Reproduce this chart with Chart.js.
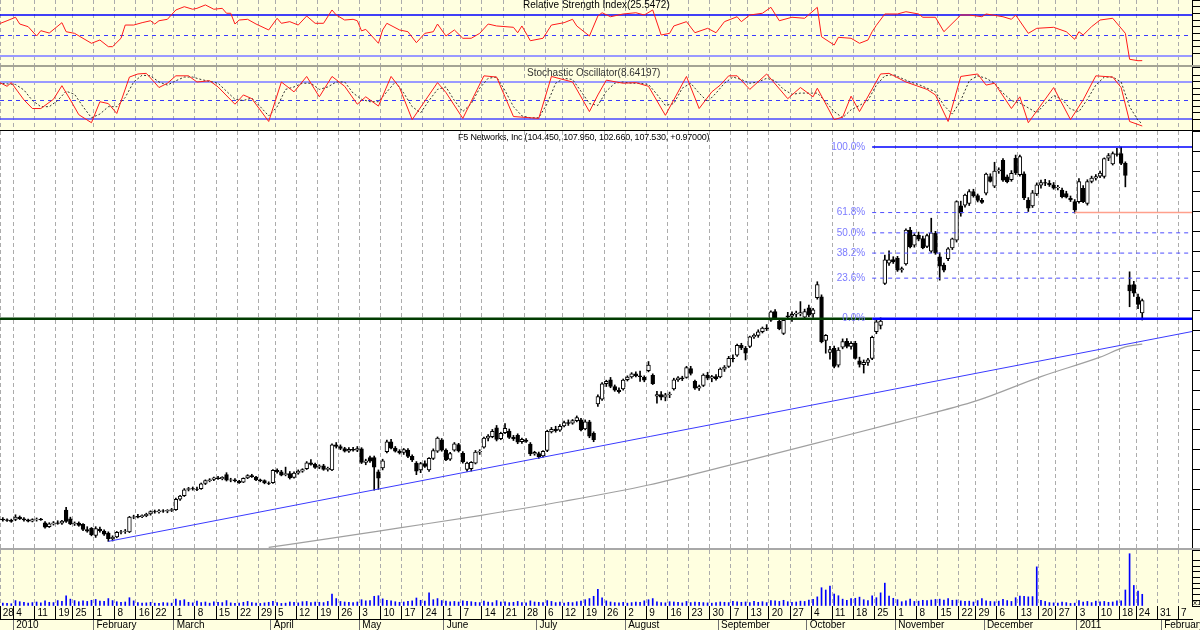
<!DOCTYPE html>
<html>
<head>
<meta charset="utf-8">
<script src="https://cdn.jsdelivr.net/npm/chart.js@4.4.1/dist/chart.umd.min.js"></script>
<style>
  html, body { margin: 0; padding: 0; background: #fff; }
  #wrap { position: relative; width: 1200px; height: 630px; overflow: hidden; font-family: "Liberation Sans", Arial, sans-serif; }
  #wrap canvas { position: absolute; left: 0; display: block; }
  .sep { position: absolute; left: 0; width: 1200px; }
  .lbl { position: absolute; white-space: nowrap; font-size: 10px; line-height: 12px; color: #000; }
</style>
</head>
<body>
<div id="wrap">
  <canvas id="rsiChart" width="1200" height="65" style="top:0;background:#ffffe0"></canvas>
  <div class="sep" style="top:65px;height:2px;background:#a4a494"></div>
  <canvas id="stoChart" width="1200" height="63" style="top:67px;background:#ffffe0"></canvas>
  <div class="sep" style="top:130px;height:1px;background:#000"></div>
  <canvas id="priceChart" width="1200" height="417" style="top:131px;background:#fff"></canvas>
  <div class="sep" style="top:548px;height:2px;background:#a8a8a8"></div>
  <canvas id="volChart" width="1200" height="80" style="top:550px;background:#ffffe0"></canvas>
  <div class="lbl" style="left:523px;top:-1px">Relative Strength Index(25.5472)</div>
  <div class="lbl" style="left:527px;top:67px;color:#333">Stochastic Oscillator(8.64197)</div>
  <div class="lbl" style="left:458px;top:131px;font-size:9px;letter-spacing:-0.2px">F5 Networks, Inc (104.450, 107.950, 102.660, 107.530, +0.97000)</div>
  <div class="lbl" style="left:1193px;top:597px;font-size:8px">x1</div>
</div>
<script>
(function () {
  "use strict";

  // Trading-day axis: day 0 = 4 Jan 2010, first candle = 28 Dec 2009
  const X_MIN = -3.673;
  const X_MAX = 278.79;
  const firstDay = -4;

  // Daily prices (USD)
  const openP = [
    52.3,52.5,52.3,52.2,52.4,53.0,52.6,52.3,52.0,52.4,
    52.5,51.6,50.6,51.3,51.6,51.5,54.8,52.6,51.3,51.5,
    51.2,49.9,50.2,48.4,50.0,49.5,49.0,47.6,48.0,49.2,
    49.4,49.3,53.0,53.2,53.1,53.4,53.8,54.4,54.3,54.6,
    54.5,54.7,54.9,57.5,58.4,60.0,60.2,60.1,60.2,61.5,
    62.2,62.5,62.9,62.7,63.7,62.3,62.4,62.1,61.8,62.9,
    63.5,63.1,62.4,62.2,61.6,61.7,64.8,64.4,63.7,64.0,
    63.0,64.1,64.6,65.2,66.7,66.3,65.6,65.9,65.0,64.9,
    71.2,70.8,70.3,69.6,70.1,69.9,70.2,66.8,68.0,68.0,
    64.4,65.4,69.5,72.0,70.4,69.6,69.3,69.9,68.3,66.6,
    64.9,66.5,64.9,67.8,69.6,72.4,69.9,67.6,69.9,71.3,
    69.1,65.0,65.2,66.6,69.4,70.6,72.9,73.3,75.5,72.8,
    74.3,74.7,73.1,73.6,72.0,72.4,71.4,68.9,69.0,68.4,
    69.8,74.5,75.1,74.9,76.0,76.8,76.7,77.3,77.5,75.2,
    77.0,74.1,81.5,82.7,86.6,87.6,85.9,85.0,85.3,87.6,
    88.3,89.1,88.6,88.2,89.9,88.7,83.5,83.9,83.2,83.8,
    85.3,87.6,88.1,88.2,90.4,87.2,85.5,86.2,88.8,88.0,
    88.4,88.3,90.3,91.0,93.0,93.8,96.3,95.5,96.0,98.4,
    98.8,99.7,100.6,102.6,104.8,102.3,99.3,103.7,103.6,104.1,
    104.2,103.4,105.7,104.2,108.3,108.5,97.5,94.5,95.5,91.3,
    95.8,97.3,96.0,96.8,92.4,91.4,92.0,93.0,99.7,101.3,
    111.9,117.0,117.9,118.2,115.3,116.8,125.3,121.5,124.0,123.2,
    121.2,120.0,124.5,118.6,116.5,118.1,120.8,122.8,131.4,131.6,
    132.0,135.0,134.0,132.8,134.6,138.8,136.4,140.2,142.9,138.7,
    138.0,143.4,139.3,139.5,132.9,131.4,134.4,136.6,137.3,137.1,
    136.7,136.0,135.4,134.5,133.3,132.5,132.5,135.8,132.0,137.6,
    138.4,138.9,138.8,143.4,142.0,144.5,144.6,142.1,111.5,111.6,
    108.5,104.45
  ];
  const highP = [
    52.8,52.9,52.6,52.5,53.6,53.3,52.9,52.5,52.6,52.8,
    52.7,51.9,51.6,51.9,52.1,52.2,55.5,53.0,51.8,51.8,
    51.4,50.6,50.4,50.6,50.5,49.8,49.3,48.3,49.4,49.7,
    49.9,53.2,53.5,53.7,53.6,54.0,54.6,54.8,54.9,54.9,
    54.9,55.2,57.8,58.5,60.2,60.5,60.6,60.6,61.6,62.4,
    62.7,63.1,63.3,63.2,64.2,62.8,62.7,62.3,62.9,63.7,
    63.8,63.3,62.6,62.4,61.9,65.0,65.2,64.8,65.6,64.5,
    64.4,64.9,65.2,67.0,67.5,66.6,66.2,66.3,65.6,71.5,
    71.8,71.2,70.6,70.5,70.6,70.8,70.5,67.6,68.4,68.4,
    64.9,67.6,72.4,72.6,70.8,70.0,70.3,70.3,68.7,67.0,
    66.8,67.2,68.0,70.2,73.2,72.8,70.2,69.3,71.8,71.6,
    69.5,66.9,67.0,69.8,70.0,73.2,73.8,75.1,76.1,74.4,
    76.6,75.2,73.6,74.0,72.9,72.8,71.8,69.6,69.4,69.8,
    74.9,75.6,75.9,76.3,77.2,77.5,77.6,78.5,77.9,77.5,
    77.4,74.5,83.8,86.9,87.5,88.2,86.3,85.6,87.8,88.6,
    89.4,89.6,89.8,88.6,92.2,89.1,84.7,84.6,84.2,84.5,
    88.0,88.4,88.5,91.0,91.0,87.5,86.3,89.1,89.5,88.7,
    88.9,90.6,91.2,93.5,93.9,96.6,96.8,96.0,98.6,99.2,
    100.2,100.9,101.5,105.0,105.3,102.7,102.9,104.6,104.7,104.9,
    107.3,105.4,106.4,105.6,112.3,109.0,99.0,96.0,96.1,95.7,
    97.9,98.0,97.2,97.3,93.3,92.6,93.0,98.6,102.8,103.2,
    119.0,120.1,118.6,118.7,116.0,125.6,126.0,124.4,124.8,123.8,
    124.3,128.3,125.0,119.6,117.0,120.9,123.3,132.7,132.6,134.4,
    135.5,135.6,134.4,133.3,139.7,139.5,142.4,141.0,143.3,139.2,
    140.3,144.2,144.2,140.0,133.5,135.3,137.2,137.9,138.1,137.8,
    137.3,136.6,135.9,135.1,133.9,133.0,138.3,136.5,138.0,138.9,
    139.3,140.2,143.5,144.6,145.0,145.9,146.2,142.5,114.8,112.4,
    109.2,107.95
  ];
  const lowP = [
    51.9,52.0,51.9,51.7,52.1,52.4,52.0,51.8,51.8,52.0,
    52.2,50.2,50.4,51.0,51.2,51.2,51.7,51.1,50.9,50.7,
    49.6,49.2,48.3,47.9,49.2,48.4,46.9,47.0,47.8,48.8,
    48.9,49.1,52.6,52.8,52.9,53.1,53.5,54.0,54.0,54.2,
    54.1,54.4,54.7,57.2,58.2,59.6,59.8,59.7,60.0,61.2,
    61.9,62.2,62.5,62.4,62.1,61.9,61.9,61.5,61.7,62.7,
    63.0,62.2,61.9,61.4,61.2,61.5,64.1,63.4,63.4,62.6,
    62.8,63.8,64.3,65.0,66.1,65.3,65.2,64.8,64.6,64.7,
    70.4,70.0,69.4,69.3,69.6,69.5,66.5,66.2,66.8,59.8,
    60.0,64.9,69.2,70.2,69.4,68.9,68.8,68.0,67.0,63.7,
    64.2,65.5,64.5,67.5,69.3,69.6,67.2,67.3,69.6,69.4,
    66.6,64.5,64.6,66.4,68.8,70.4,72.2,73.0,72.2,72.5,
    74.0,72.8,72.3,71.5,71.6,71.8,68.5,68.6,67.8,68.1,
    69.5,74.2,74.4,74.6,75.7,76.1,76.4,77.0,74.7,75.0,
    73.0,72.0,80.9,82.4,85.9,85.6,84.7,84.2,85.0,87.3,
    88.0,88.3,87.2,87.1,89.6,86.4,81.7,82.5,82.3,83.1,
    85.0,87.2,87.4,88.0,88.8,85.2,84.9,85.9,87.6,87.1,
    87.5,88.1,89.7,90.7,92.1,93.5,95.2,92.6,95.7,98.0,
    98.3,99.4,100.0,102.3,102.8,100.2,99.0,103.0,102.3,103.4,
    103.7,102.9,103.5,103.3,107.9,96.9,94.3,92.8,90.6,90.8,
    95.4,95.6,95.3,92.8,90.8,89.3,91.2,92.7,99.2,100.4,
    111.6,116.4,116.9,114.9,114.7,116.5,120.8,121.0,122.6,120.6,
    120.9,119.6,119.2,112.7,114.8,117.6,120.4,122.3,128.8,131.1,
    131.5,133.6,132.4,132.0,134.2,137.4,136.0,139.6,137.6,137.2,
    137.6,139.3,138.9,133.0,130.0,131.0,134.0,135.9,136.5,136.3,
    135.6,135.4,133.4,133.4,132.5,129.6,132.1,132.2,131.6,137.2,
    137.9,138.5,138.4,142.8,141.7,143.9,141.8,136.2,106.0,108.6,
    105.5,102.66
  ];
  const closeP = [
    52.5,52.3,52.2,51.9,53.0,52.6,52.3,52.0,52.4,52.5,
    52.3,50.5,51.3,51.6,51.4,52.0,51.9,51.3,51.5,50.9,
    49.9,49.5,48.6,50.1,49.6,48.7,47.6,47.9,49.2,49.3,
    49.5,53.0,53.1,53.0,53.4,53.7,54.4,54.3,54.6,54.5,
    54.7,54.9,57.5,58.3,59.9,60.2,60.1,60.0,61.4,62.2,
    62.4,62.9,62.7,63.0,62.3,62.4,62.1,61.7,62.8,63.5,
    63.2,62.4,62.2,61.6,61.5,64.8,64.4,63.6,64.0,62.9,
    64.1,64.6,65.0,66.7,66.3,65.5,65.9,65.0,65.3,71.2,
    70.8,70.3,69.6,70.1,69.9,70.3,66.8,67.2,67.1,65.6,
    62.8,67.2,72.0,70.4,69.6,69.2,70.0,68.3,67.4,64.6,
    66.5,65.8,67.8,69.8,72.9,69.9,67.4,69.0,71.5,69.7,
    66.9,66.6,66.8,69.4,69.6,72.9,73.4,74.6,72.6,74.1,
    75.4,73.1,72.7,71.9,72.6,72.1,68.9,69.3,68.2,69.6,
    74.6,75.1,74.8,75.9,76.8,76.6,77.3,78.1,75.0,77.0,
    73.4,72.5,83.4,86.6,87.2,85.9,85.0,84.6,87.5,88.3,
    89.1,88.6,88.4,87.5,91.3,86.6,83.9,83.2,83.8,84.0,
    87.6,88.1,87.8,90.7,89.2,85.5,85.9,88.8,88.0,88.4,
    87.9,90.3,90.8,93.0,92.9,96.3,95.6,94.3,98.4,98.8,
    99.7,100.6,100.4,104.7,103.1,100.5,102.6,103.5,104.1,104.4,
    104.5,104.8,103.9,105.2,111.6,97.2,98.8,95.2,91.0,95.1,
    97.2,96.0,96.8,93.0,91.5,92.0,92.6,98.3,102.2,102.4,
    117.8,117.8,117.3,115.2,115.6,125.3,121.1,124.0,123.0,120.8,
    123.9,124.6,119.5,116.2,115.2,120.6,123.1,132.5,129.6,134.1,
    135.0,134.0,132.8,132.3,139.4,137.6,140.2,140.5,137.9,137.5,
    139.6,139.7,143.8,133.4,130.8,134.7,136.7,137.3,137.1,136.7,
    135.9,136.1,133.7,133.6,132.9,130.4,137.5,132.5,137.5,138.4,
    138.8,139.7,143.3,144.1,144.6,144.4,142.1,139.1,110.0,109.4,
    106.56,107.53
  ];

  // Daily volume (millions of shares)
  const volume = [
    1.2,1.0,0.9,0.8,1.9,1.5,1.3,1.0,1.2,1.4,
    1.1,1.8,1.3,1.2,1.9,1.6,3.6,2.4,1.9,1.5,
    1.8,1.6,2.0,2.3,1.7,1.6,2.6,1.9,1.5,1.3,
    1.4,2.9,1.8,1.2,1.0,1.1,1.3,1.0,0.9,1.2,
    1.1,1.0,2.4,1.9,2.2,1.3,1.1,1.7,1.2,1.4,
    1.0,1.5,1.3,1.2,1.9,1.1,0.9,1.0,1.3,1.6,
    1.2,1.0,0.9,1.1,1.3,1.6,1.2,0.9,1.0,1.4,
    1.3,1.1,1.5,1.6,1.2,1.4,1.3,1.2,1.6,4.2,
    2.6,1.6,1.4,1.3,1.2,1.4,2.2,1.8,1.9,3.4,
    3.6,2.5,2.0,1.8,1.5,1.3,1.4,1.6,1.8,2.8,
    2.0,1.7,4.6,2.2,2.6,1.9,1.7,1.5,1.6,1.4,
    1.8,1.6,1.5,1.3,1.2,1.7,1.4,1.2,1.9,1.4,
    1.5,1.2,1.3,1.6,1.2,1.1,1.8,1.4,1.3,1.2,
    1.9,1.6,1.2,1.4,1.0,1.3,1.2,1.5,1.7,2.2,
    2.6,3.4,5.8,2.9,1.8,1.4,1.2,1.1,1.3,1.0,
    1.2,1.4,1.3,1.8,2.2,2.6,1.5,1.2,1.1,1.5,
    1.4,1.3,1.1,1.6,1.2,1.4,1.3,1.2,1.1,1.0,
    1.2,1.4,1.3,1.2,1.6,1.5,1.3,1.4,1.2,1.6,
    1.3,1.5,1.2,1.9,1.8,1.6,2.0,1.5,1.3,1.4,
    1.7,1.6,2.1,2.3,3.2,6.4,5.6,7.0,4.2,3.6,
    2.4,2.0,2.6,2.7,3.1,2.2,1.9,3.6,2.9,4.6,
    8.0,3.5,2.7,2.2,1.5,1.8,2.4,1.6,1.7,2.0,
    1.9,2.1,2.3,2.4,2.1,2.6,2.0,2.1,1.8,1.6,
    1.7,1.4,1.9,2.6,1.8,1.6,1.5,1.7,2.3,1.9,
    1.6,2.9,3.5,3.4,3.2,3.3,13.7,2.0,1.6,1.2,
    1.1,1.0,1.4,1.2,0.9,1.0,1.9,1.4,1.6,1.2,
    1.7,1.5,1.6,1.3,1.4,1.8,1.8,5.6,18.3,7.2,
    5.2,4.1
  ];

  // Relative Strength Index
  const rsiDay = [
    -4,-2,0,1,3,5,6,8,11,12, 14,18,20,22,23,25,26,28,30,32,
    33,34,36,38,40,42,43,45,47,49, 50,51,52,53,55,57,60,62,63,65,
    67,69,71,73,75,76,78,80,81,82, 83,86,87,88,91,93,95,97,99,100,
    102,104,106,108,110,112,114,118,119,120, 122,125,127,130,132,133,136,138,139,141,
    144,147,149,151,153,155,156,159,161,164, 166,168,171,172,174,177,179,181,184,187,
    190,191,194,195,198,200,202,203,204,206, 207,209,211,214,215,218,220,224,226,229,
    230,234,236,237,240,242,246,249,251,252, 253,255,257,260,263,264,266,267
  ];
  const rsiVal = [
    61.2,64.4,67.8,61.2,58.6,49.5,54.7,52.4,62.5,53.7, 52.1,42.4,45.6,39.1,39.1,47.3,60.2,60.2,62.5,64.4,
    61.2,64.4,65.8,74.9,78.1,75.6,76.5,79.8,75.6,76.5, 71.7,71.7,61.2,65.1,65.8,61.2,55.4,66.8,61.9,63.5,
    60.2,69.0,61.9,61.9,74.9,70.0,65.1,65.8,64.4,54.5, 56.0,42.4,55.4,61.9,55.4,53.7,43.0,52.1,53.7,61.2,
    49.5,55.4,47.3,47.3,52.1,61.2,59.3,58.0,52.7,59.3, 44.9,47.3,60.2,62.5,65.8,59.3,49.5,69.0,72.2,68.3,
    71.0,72.2,70.0,74.9,50.5,52.1,59.3,63.5,52.7,57.0, 52.7,63.5,68.3,63.5,70.0,71.7,77.5,64.4,67.8,66.8,
    77.5,48.8,40.7,48.2,47.3,42.4,45.6,53.7,60.0,71.0, 71.0,71.0,73.2,71.0,67.8,67.8,53.7,70.0,70.0,68.3,
    71.0,68.3,65.8,70.0,52.1,57.0,58.0,53.7,46.3,53.7, 50.5,58.6,65.1,66.8,52.1,26.8,25.4,25.5
  ];

  // Stochastic oscillator %K and %D
  const kDay = [
    -4,-2,-1,2,4,6,9,11,13,15, 18,20,22,24,27,29,31,33,34,36,
    38,41,43,46,48,52,54,56,60,63, 66,69,72,75,78,81,83,86,89,91,
    94,100,102,106,111,114,118,124,127,132, 136,138,140,144,147,150,154,159,162,165,
    167,169,171,174,178,183,186,189,190,194, 196,198,200,205,207,211,216,218,221,224,
    228,230,232,236,238,240,246,250,253,256, 260,262,264,267
  ];
  const kVal = [
    80,73,79,51,37,37,52,74,51,27, 14,48,45,29,88,93,94,79,71,78,
    90,90,80,82,72,44,59,53,16,80, 64,89,56,89,73,44,56,41,89,71,
    19,79,63,21,90,88,24,21,89,80, 32,59,83,78,79,73,26,89,37,64,
    75,90,90,68,93,53,71,56,70,19, 23,57,32,93,94,80,68,59,16,89,
    93,75,78,37,56,14,71,19,51,90, 88,71,16,8.64
  ];
  const dDay = [
    -4,-2,0,2,4,6,8,10,12,14, 16,18,20,22,24,26,28,30,32,34,
    36,38,40,42,44,46,48,50,52,54, 56,58,60,62,64,66,68,70,72,74,
    76,78,80,82,84,86,88,90,92,94, 96,98,100,102,104,106,108,110,112,114,
    116,118,120,122,124,126,128,130,132,134, 136,138,140,142,144,146,148,150,152,154,
    156,158,160,162,164,166,168,170,172,174, 176,178,180,182,184,186,188,190,192,194,
    196,198,200,202,204,206,208,210,212,214, 216,218,220,222,224,226,228,230,232,234,
    236,238,240,242,244,246,248,250,252,254, 256,258,260,262,264,266,267
  ];
  const dVal = [
    78,77,76,67,50,40,40,50,65,60, 40,22,28,40,40,55,80,91,90,80,
    75,82,88,88,84,81,78,65,52,50, 54,40,25,40,68,72,78,78,68,72,
    80,80,62,52,48,48,64,80,62,40, 30,50,68,72,50,32,45,70,86,88,
    66,40,25,22,22,45,78,86,84,65, 45,42,65,78,80,78,78,76,60,42,
    45,70,78,62,48,62,78,88,84,78, 80,86,82,68,60,62,62,62,48,32,
    22,35,42,50,75,90,92,86,80,76, 70,64,42,28,50,82,90,86,78,62,
    50,46,38,30,45,58,52,36,32,52, 75,88,88,80,40,18,12
  ];

  // 200-day moving average
  const maDay = [60, 75, 91, 110, 130, 150, 170, 190, 210, 228, 243, 257, 263, 267];
  const maVal = [45.4, 47.7, 50.3, 53.4, 57.0, 61.1, 66.3, 71.7, 77.2, 82.4, 88.4, 93.3, 95.9, 96.6];

  // Up-trend line through the February low
  const trendDay = [22, 278.79];
  const trendVal = [46.9, 99.76];

  // Fibonacci retracement
  const fibStartDay = 203;
  const fibLow = 103.0;
  const fibHigh = 146.24;
  const fibRatios = [0, 0.236, 0.382, 0.5, 0.618, 1];
  const fibLabels = ['0.0%', '23.6%', '38.2%', '50.0%', '61.8%', '100.0%'];
  const retraceDay = 251;

  // Date axis
  const dayTickDay = [
    -3.2,0,5,10,14,19,24,29,33,38,43,48,53,58,62,67,72,77,82,87,92,97,102,106,111,116,121,126,130,135,
    140,145,150,155,160,165,170,174,179,184,189,194,199,204,209,214,219,224,228,233,238,243,247,252,257,262,266,271,276
  ];
  const dayTickLabel = [
    '28','4','11','19','25','1','8','16','22','1','8','15','22','29','5','12','19','26','3','10','17','24','1','7','14','21','28','6','12','19',
    '26','2','9','16','23','30','7','13','20','27','4','11','18','25','1','8','15','22','29','6','13','20','27','3','10','18','24','31','7'
  ];
  const monthTickDay = [0, 19, 38, 61, 82, 102, 124, 145, 167, 188, 209, 230, 252, 272];
  const monthTickLabel = ['2010', 'February', 'March', 'April', 'May', 'June', 'July', 'August',
    'September', 'October', 'November', 'December', '2011', 'February'];

  Chart.defaults.font.family = '"Liberation Sans", Arial, sans-serif';
  Chart.defaults.font.size = 10;
  Chart.defaults.color = '#000';

  const slot = 0.47; // tick sits at the left edge of the day slot
  const candleDay = closeP.map(function (c, k) { return firstDay + k; });
  const pts = function (days, vals) { return vals.map(function (v, k) { return {x: days[k], y: v}; }); };

  function hLine(value, from, to, color, width, dash) {
    return {
      type: 'line', data: [{x: from, y: value}, {x: to, y: value}],
      borderColor: color, borderWidth: width, borderDash: dash || [],
      pointRadius: 0, order: 0
    };
  }

  function weekGrid() {
    return {
      type: 'linear', min: X_MIN, max: X_MAX, offset: false,
      afterBuildTicks: function (s) { s.ticks = dayTickDay.map(function (d) { return {value: d - slot}; }); },
      afterFit: function (s) { s.height = 0; s.paddingLeft = 0; s.paddingRight = 0; },
      ticks: {display: false},
      grid: {offset: false, color: '#acacac', lineWidth: 1, drawTicks: false},
      border: {display: false, dash: [4, 3]}
    };
  }

  function rightAxis(min, max, step) {
    return {
      position: 'right', min: min, max: max,
      afterFit: function (s) { s.width = 8; },
      ticks: {display: false, stepSize: step},
      grid: {drawOnChartArea: false, drawTicks: true, tickLength: 8, color: '#000'},
      border: {display: true, color: '#000', width: 1}
    };
  }

  function baseOptions(scales) {
    return {
      responsive: false, animation: false, events: [],
      layout: {padding: 0},
      plugins: {legend: {display: false}, tooltip: {enabled: false}},
      scales: scales
    };
  }

  // RSI PANEL
  new Chart(document.getElementById('rsiChart'), {
    type: 'line',
    data: {
      datasets: [
        {data: pts(rsiDay, rsiVal), borderColor: '#ff1a1a', borderWidth: 1, pointRadius: 0, tension: 0},
        hLine(70, X_MIN, X_MAX, '#0000ff', 1.5),
        hLine(50, X_MIN, X_MAX, '#3a3aff', 1, [4, 4]),
        hLine(30, X_MIN, X_MAX, '#9a9aff', 2)
      ]
    },
    options: baseOptions({x: weekGrid(), y: rightAxis(21.22, 84.63, 6.5)})
  });

  // STOCHASTIC PANEL
  new Chart(document.getElementById('stoChart'), {
    type: 'line',
    data: {
      datasets: [
        {data: pts(kDay, kVal), borderColor: '#ff1a1a', borderWidth: 1, pointRadius: 0, tension: 0},
        {data: pts(dDay, dVal), borderColor: '#333333', borderWidth: 1, borderDash: [2, 2], pointRadius: 0, tension: 0},
        hLine(80, X_MIN, X_MAX, '#9a9aff', 2),
        hLine(50, X_MIN, X_MAX, '#3a3aff', 1, [4, 4]),
        hLine(20, X_MIN, X_MAX, '#4a4aff', 1.5)
      ]
    },
    options: baseOptions({x: weekGrid(), y: rightAxis(2.17, 104.31, 10)})
  });

  // PRICE PANEL
  const fibLevel = fibRatios.map(function (r) { return fibLow + r * (fibHigh - fibLow); });
  const fibSets = fibRatios.map(function (r, k) {
    if (r === 0) return hLine(fibLevel[k], fibStartDay, X_MAX, '#0000ff', 2.5);
    if (r === 1) return hLine(fibLevel[k], fibStartDay, X_MAX, '#0000ff', 1.5);
    if (r === 0.618) return hLine(fibLevel[k], fibStartDay, retraceDay, '#4d4dff', 1, [4, 4]);
    return hLine(fibLevel[k], fibStartDay, X_MAX, '#4d4dff', 1, [4, 4]);
  });

  const fibLabelPlugin = {
    id: 'fibLabels',
    afterDatasetsDraw: function (chart) {
      const ctx = chart.ctx, x = chart.scales.x, y = chart.scales.y;
      ctx.save();
      ctx.font = '10px "Liberation Sans", Arial, sans-serif';
      ctx.fillStyle = '#7b7bff';
      ctx.textAlign = 'right';
      ctx.textBaseline = 'middle';
      fibLevel.forEach(function (v, k) {
        ctx.fillText(fibLabels[k], x.getPixelForValue(fibStartDay) - 7, y.getPixelForValue(v));
      });
      ctx.restore();
    }
  };

  new Chart(document.getElementById('priceChart'), {
    type: 'bar',
    data: {
      datasets: [
        hLine(fibLow, X_MIN, fibStartDay, '#003c00', 2.5),
        {type: 'line', data: pts(maDay, maVal), borderColor: '#a0a0a0', borderWidth: 1.2, pointRadius: 0,
         cubicInterpolationMode: 'monotone', order: 0},
        {type: 'line', data: pts(trendDay, trendVal), borderColor: '#3a3aff', borderWidth: 1, pointRadius: 0, order: 0},
        hLine(fibLevel[4], retraceDay, X_MAX, '#ffa08c', 1.5)
      ].concat(fibSets).concat([
        {
          type: 'bar', order: 1, grouped: false, barThickness: 3.8,
          data: candleDay.map(function (d, k) {
            return {x: d, y: [Math.min(openP[k], closeP[k]), Math.max(openP[k], closeP[k])]};
          }),
          backgroundColor: closeP.map(function (c, k) { return c >= openP[k] ? '#ffffff' : '#000000'; }),
          borderColor: '#000000', borderWidth: 1, borderSkipped: false
        },
        {
          type: 'bar', order: 2, grouped: false, barThickness: 1,
          data: candleDay.map(function (d, k) { return {x: d, y: [lowP[k], highP[k]]}; }),
          backgroundColor: '#000000'
        }
      ])
    },
    options: baseOptions({x: weekGrid(), y: rightAxis(45.23, 150.27, 5)}),
    plugins: [fibLabelPlugin]
  });

  // VOLUME PANEL + DATE AXIS
  new Chart(document.getElementById('volChart'), {
    type: 'bar',
    data: {
      datasets: [{
        data: candleDay.map(function (d, k) { return {x: d, y: volume[k]}; }),
        backgroundColor: '#0000ff', barThickness: 1, grouped: false
      }]
    },
    options: baseOptions({
      x: {
        type: 'linear', min: X_MIN, max: X_MAX, offset: false, position: 'bottom', weight: 0,
        afterBuildTicks: function (s) { s.ticks = dayTickDay.map(function (d) { return {value: d - slot}; }); },
        afterFit: function (s) { s.height = 13; s.paddingLeft = 0; s.paddingRight = 0; },
        ticks: {
          autoSkip: false, maxRotation: 0, minRotation: 0, align: 'start', padding: -12,
          color: '#000', font: {size: 10},
          callback: function (v, k) { return ' ' + dayTickLabel[k]; }
        },
        grid: {offset: false, color: '#acacac', lineWidth: 1, drawTicks: true, tickLength: 13,
               tickColor: '#000', tickWidth: 1, tickBorderDash: []},
        border: {display: false, dash: [4, 3]}
      },
      xm: {
        type: 'linear', axis: 'x', min: X_MIN, max: X_MAX, offset: false, position: 'bottom', weight: 1,
        afterBuildTicks: function (s) { s.ticks = monthTickDay.map(function (d) { return {value: d - slot}; }); },
        afterFit: function (s) { s.height = 11; s.paddingLeft = 0; s.paddingRight = 0; },
        ticks: {
          autoSkip: false, maxRotation: 0, minRotation: 0, align: 'start', padding: -11,
          color: '#000', font: {size: 10},
          callback: function (v, k) { return ' ' + monthTickLabel[k]; }
        },
        grid: {offset: false, drawOnChartArea: false, drawTicks: true, tickLength: 11,
               tickColor: '#707070', tickWidth: 1},
        border: {display: true, color: '#000', width: 1}
      },
      y: rightAxis(0, 19.6, 2)
    })
  });
})();
</script>
</body>
</html>
